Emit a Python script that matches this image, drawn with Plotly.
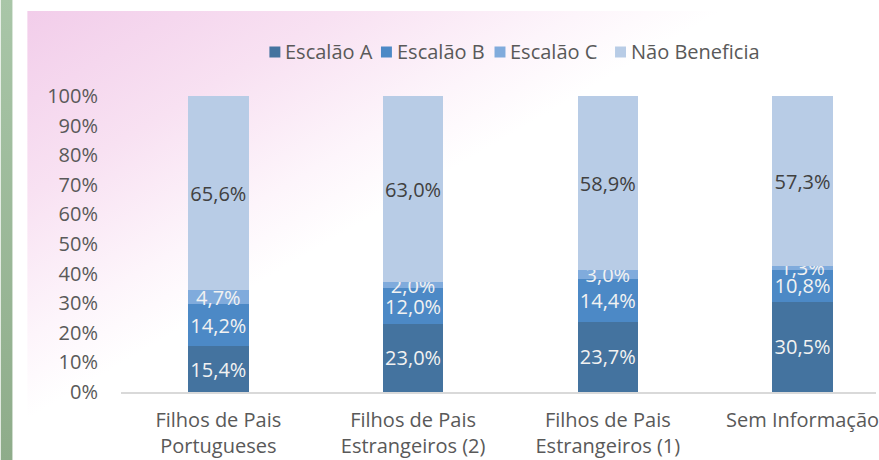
import base64
import plotly.graph_objects as go

# ---- data ----
categories = ["Filhos de Pais<br>Portugueses", "Filhos de Pais<br>Estrangeiros (2)",
              "Filhos de Pais<br>Estrangeiros (1)", "Sem Informação"]
escalao_a = [15.4, 23.0, 23.7, 30.5]
escalao_b = [14.2, 12.0, 14.4, 10.8]
escalao_c = [4.7, 2.0, 3.0, 1.3]
nao_beneficia = [65.6, 63.0, 58.9, 57.3]
series_names = ["Escalão A", "Escalão B", "Escalão C", "Não Beneficia"]
y_ticks = [0, 10, 20, 30, 40, 50, 60, 70, 80, 90, 100]

# ---- style ----
colors = ["#44739f", "#4c89c6", "#80abdc", "#b8cce6"]
text_colors = ["#f2f2f2", "#f2f2f2", "#f2f2f2", "#404040"]
FONT = "Open Sans"
GRAY = "#595959"
FS = 20

W, H = 879, 460
ML, MR, MT, MB = 121, 0, 96, 68
PW, PH = W - ML - MR, H - MT - MB

# legend layout (pixel positions of the key squares)
LEG_X = [270, 382, 496, 617]
LEG_Y = 52
LEG_SQ = 11


def px_x(p):
    return (p - ML) / PW


def px_y(p):
    return 1 + (MT - p) / PH


def fmt(v):
    return f"{v:.1f}".replace(".", ",") + "%"


fig = go.Figure()
for name, vals, col, tcol in zip(series_names,
                                 [escalao_a, escalao_b, escalao_c, nao_beneficia],
                                 colors, text_colors):
    fig.add_trace(go.Bar(
        name=name, x=categories, y=vals,
        marker=dict(color=col, line=dict(width=0)),
        text=[fmt(v) for v in vals],
        textposition="inside", insidetextanchor="middle",
        textangle=0, constraintext="none",
        textfont=dict(family=FONT, size=FS, color=tcol),
        hoverinfo="skip", showlegend=False,
    ))

# legend keys drawn as squares + labels
shapes = []
annotations = []
for name, col, lx in zip(series_names, colors, LEG_X):
    shapes.append(dict(type="rect", xref="paper", yref="paper",
                       x0=px_x(lx), x1=px_x(lx + LEG_SQ),
                       y0=px_y(LEG_Y + LEG_SQ / 2), y1=px_y(LEG_Y - LEG_SQ / 2),
                       fillcolor=col, line=dict(width=0)))
    annotations.append(dict(text=name, xref="paper", yref="paper",
                            x=px_x(lx + LEG_SQ + 3), y=px_y(LEG_Y - 1),
                            xanchor="left", yanchor="middle", showarrow=False,
                            font=dict(family=FONT, size=FS, color=GRAY)))

# background (page strip + pink gradient) as an SVG image
svg = f'''<svg xmlns="http://www.w3.org/2000/svg" width="{W}" height="{H}" viewBox="0 0 {W} {H}">
<defs>
<linearGradient id="g" gradientUnits="userSpaceOnUse" x1="27" y1="11" x2="205" y2="315">
<stop offset="0" stop-color="#f2cdea"/>
<stop offset="0.45" stop-color="#f8e1f2"/>
<stop offset="0.8" stop-color="#fdf5fb"/>
<stop offset="1" stop-color="#ffffff"/>
</linearGradient>
<linearGradient id="s" x1="0" y1="0" x2="0" y2="1">
<stop offset="0" stop-color="#a9c6a8"/>
<stop offset="1" stop-color="#8eac8a"/>
</linearGradient>
</defs>
<rect x="0" y="0" width="{W}" height="{H}" fill="#ffffff"/>
<rect x="0" y="0" width="12" height="{H}" fill="url(#s)"/>
<rect x="27" y="11" width="{W-27}" height="{H-11}" fill="url(#g)"/>
</svg>'''
uri = "data:image/svg+xml;base64," + base64.b64encode(svg.encode()).decode()

fig.update_layout(
    width=W, height=H,
    margin=dict(l=ML, r=MR, t=MT, b=MB, pad=0),
    barmode="stack", bargap=0.69,
    paper_bgcolor="white", plot_bgcolor="rgba(0,0,0,0)",
    font=dict(family=FONT, size=FS, color=GRAY),
    showlegend=False,
    shapes=shapes,
    annotations=annotations,
    xaxis=dict(range=[-0.5, -0.5 + PW / 195.5], showgrid=False,
               showline=True, linecolor="#d9d9d9", linewidth=2,
               ticks="", ticklabelstandoff=9,
               tickfont=dict(family=FONT, size=FS, color=GRAY),
               fixedrange=True),
    yaxis=dict(range=[0, 100], tickvals=y_ticks,
               ticktext=[f"{t}%" for t in y_ticks],
               showgrid=False, zeroline=False, showline=False, ticks="",
               ticklabelstandoff=22,
               tickfont=dict(family=FONT, size=FS, color=GRAY),
               fixedrange=True),
    images=[dict(source=uri, xref="paper", yref="paper",
                 x=-ML / PW, y=1 + MT / PH, sizex=W / PW, sizey=H / PH,
                 xanchor="left", yanchor="top", sizing="stretch", layer="below")],
)

fig.write_html("out.html", config={"displayModeBar": False},
               post_script="document.body.style.margin='0';document.body.style.overflow='hidden';")
